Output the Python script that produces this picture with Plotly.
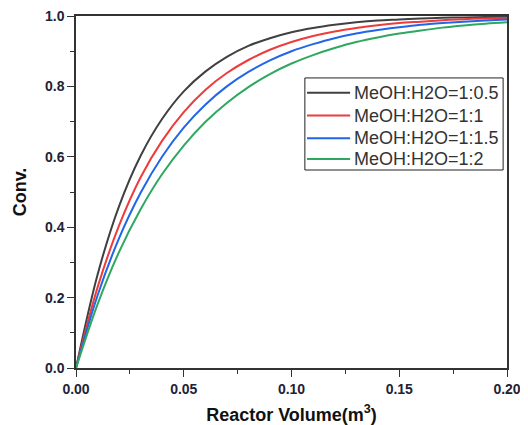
import plotly.graph_objects as go

volume = [0.00, 0.01, 0.02, 0.03, 0.04, 0.05, 0.06, 0.07, 0.08, 0.09, 0.10,
          0.11, 0.12, 0.13, 0.14, 0.15, 0.16, 0.17, 0.18, 0.19, 0.20]

conv_1_05 = [0.0, 0.265, 0.460, 0.603, 0.708, 0.786, 0.842, 0.884, 0.915, 0.937, 0.954,
             0.966, 0.975, 0.982, 0.987, 0.990, 0.993, 0.995, 0.996, 0.997, 0.998]
conv_1_1 = [0.0, 0.229, 0.405, 0.542, 0.646, 0.727, 0.790, 0.838, 0.875, 0.904, 0.926,
            0.943, 0.956, 0.966, 0.974, 0.980, 0.984, 0.988, 0.991, 0.993, 0.994]
conv_1_15 = [0.0, 0.206, 0.369, 0.498, 0.601, 0.683, 0.748, 0.800, 0.841, 0.874, 0.900,
             0.920, 0.937, 0.950, 0.960, 0.968, 0.975, 0.980, 0.984, 0.987, 0.990]
conv_1_2 = [0.0, 0.181, 0.330, 0.451, 0.551, 0.632, 0.699, 0.753, 0.798, 0.835, 0.865,
            0.889, 0.909, 0.926, 0.939, 0.950, 0.959, 0.967, 0.973, 0.978, 0.982]

series_names = ["MeOH:H2O=1:0.5", "MeOH:H2O=1:1", "MeOH:H2O=1:1.5", "MeOH:H2O=1:2"]
series_values = [conv_1_05, conv_1_1, conv_1_15, conv_1_2]
series_colors = ["#404040", "#ee3b3b", "#2166e6", "#2ea860"]

x_ticks = [0.00, 0.05, 0.10, 0.15, 0.20]
x_tick_labels = ["0.00", "0.05", "0.10", "0.15", "0.20"]
y_ticks = [0.0, 0.2, 0.4, 0.6, 0.8, 1.0]
y_tick_labels = ["0.0", "0.2", "0.4", "0.6", "0.8", "1.0"]

fig = go.Figure()
for name, vals, col in zip(series_names, series_values, series_colors):
    fig.add_trace(go.Scatter(x=volume, y=vals, mode="lines", name=name, showlegend=False,
                             line=dict(color=col, width=2, shape="spline")))

tick_font = dict(family="Arial, Liberation Sans", size=14, color="#222236", weight="bold")
title_font = dict(family="Arial, Liberation Sans", size=18, color="#111111", weight="bold")
axis_common = dict(showline=True, linecolor="#333333", linewidth=1.5, mirror=True,
                   ticks="outside", ticklen=7, tickwidth=1.2, tickcolor="#333333",
                   showgrid=False, zeroline=False, tickfont=tick_font, automargin=False,
                   ticklabeloverflow="allow")

fig.update_xaxes(range=[0, 0.20], tickvals=x_ticks, ticktext=x_tick_labels,
                 minor=dict(ticks="outside", ticklen=4, dtick=0.025, tickcolor="#333333", tickwidth=1.2),
                 title=dict(text="Reactor Volume(m<sup>3</sup>)", font=title_font, standoff=13),
                 **axis_common)
fig.update_yaxes(range=[0, 1.0], tickvals=y_ticks, ticktext=y_tick_labels,
                 minor=dict(ticks="outside", ticklen=4, dtick=0.1, tickcolor="#333333", tickwidth=1.2),
                 title=dict(text="Conv.", font=title_font, standoff=14),
                 **axis_common)

# legend box drawn in the plot's paper coordinates
leg_x0, leg_x1, leg_y0, leg_y1 = 0.531, 0.991, 0.5625, 0.824
fig.add_shape(type="rect", xref="paper", yref="paper", x0=leg_x0, x1=leg_x1, y0=leg_y0, y1=leg_y1,
              line=dict(color="#222222", width=1), fillcolor="white", layer="above")
row_y = [0.782, 0.717, 0.6526, 0.594]
for name, col, yy in zip(series_names, series_colors, row_y):
    fig.add_shape(type="line", xref="paper", yref="paper", x0=0.536, x1=0.636, y0=yy, y1=yy,
                  line=dict(color=col, width=2), layer="above")
    fig.add_annotation(xref="paper", yref="paper", x=0.640, y=yy, text=name, showarrow=False,
                       xanchor="left", yanchor="middle",
                       font=dict(family="Arial, Liberation Sans", size=18, color="#333333"))

fig.update_layout(
    width=520, height=417,
    margin=dict(l=68, r=21, t=8, b=57),
    plot_bgcolor="white", paper_bgcolor="white",
    showlegend=False,
)

fig.write_html("out.html")
